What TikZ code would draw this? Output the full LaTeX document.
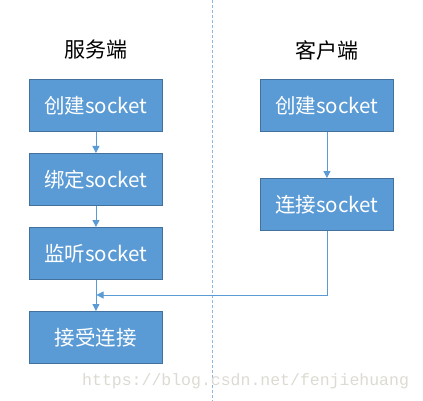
\documentclass[tikz,border=0pt]{standalone}
\usepackage{fontspec}
\setmainfont{Noto Sans CJK SC}
\newfontfamily\cjk{Noto Sans CJK SC}
\newfontfamily\wmfont{Liberation Mono}
\usetikzlibrary{arrows.meta}
\definecolor{boxfill}{HTML}{5B9BD5}
\definecolor{boxline}{HTML}{41719C}
\definecolor{arrowc}{HTML}{5B9BD5}
\definecolor{wm}{HTML}{DCDAD2}
\tikzset{
  stepbox/.style={draw=boxline, line width=0.9pt, fill=boxfill, text=white, minimum width=133pt, minimum height=52pt, inner sep=0pt, font=\cjk\fontsize{20.5}{20.5}\selectfont, anchor=north west},
  title/.style={font=\cjk\fontsize{21}{21}\selectfont, text=black},
  conn/.style={draw=arrowc, line width=0.8pt, -{Triangle[length=7pt,width=7pt]}},
}
\begin{document}
\begin{tikzpicture}[x=1pt,y=-1pt]
\useasboundingbox (0,0) rectangle (423,401);
\draw[draw=arrowc!70, dashed, dash pattern=on 3pt off 2pt, line width=0.8pt] (212,0) -- (212,401);
\node[title] (ts) at (96,50) {服务端};
\node[title] (tc) at (327,50) {客户端};
\node[stepbox] (s1) at (29,79) {创建socket};
\node[stepbox] (s2) at (29,153) {绑定socket};
\node[stepbox] (s3) at (29,227) {监听socket};
\node[stepbox] (s4) at (29,311) {接受连接};
\node[stepbox] (c1) at (260,79) {创建socket};
\node[stepbox] (c2) at (260,178) {连接socket};
\draw[conn] (s1) -- (s2);
\draw[conn] (s2) -- (s3);
\draw[conn] (s3) -- (s4);
\draw[conn] (c1) -- (c2);
\coordinate (j) at (96.5,295);
\draw[conn] (c2.south) |- (j);
\node[font=\wmfont\fontsize{16.5}{16.5}\selectfont, text=wm, anchor=west, inner sep=0pt] (wmk) at (82,381) {https://blog.csdn.net/fenjiehuang};
\end{tikzpicture}
\end{document}
